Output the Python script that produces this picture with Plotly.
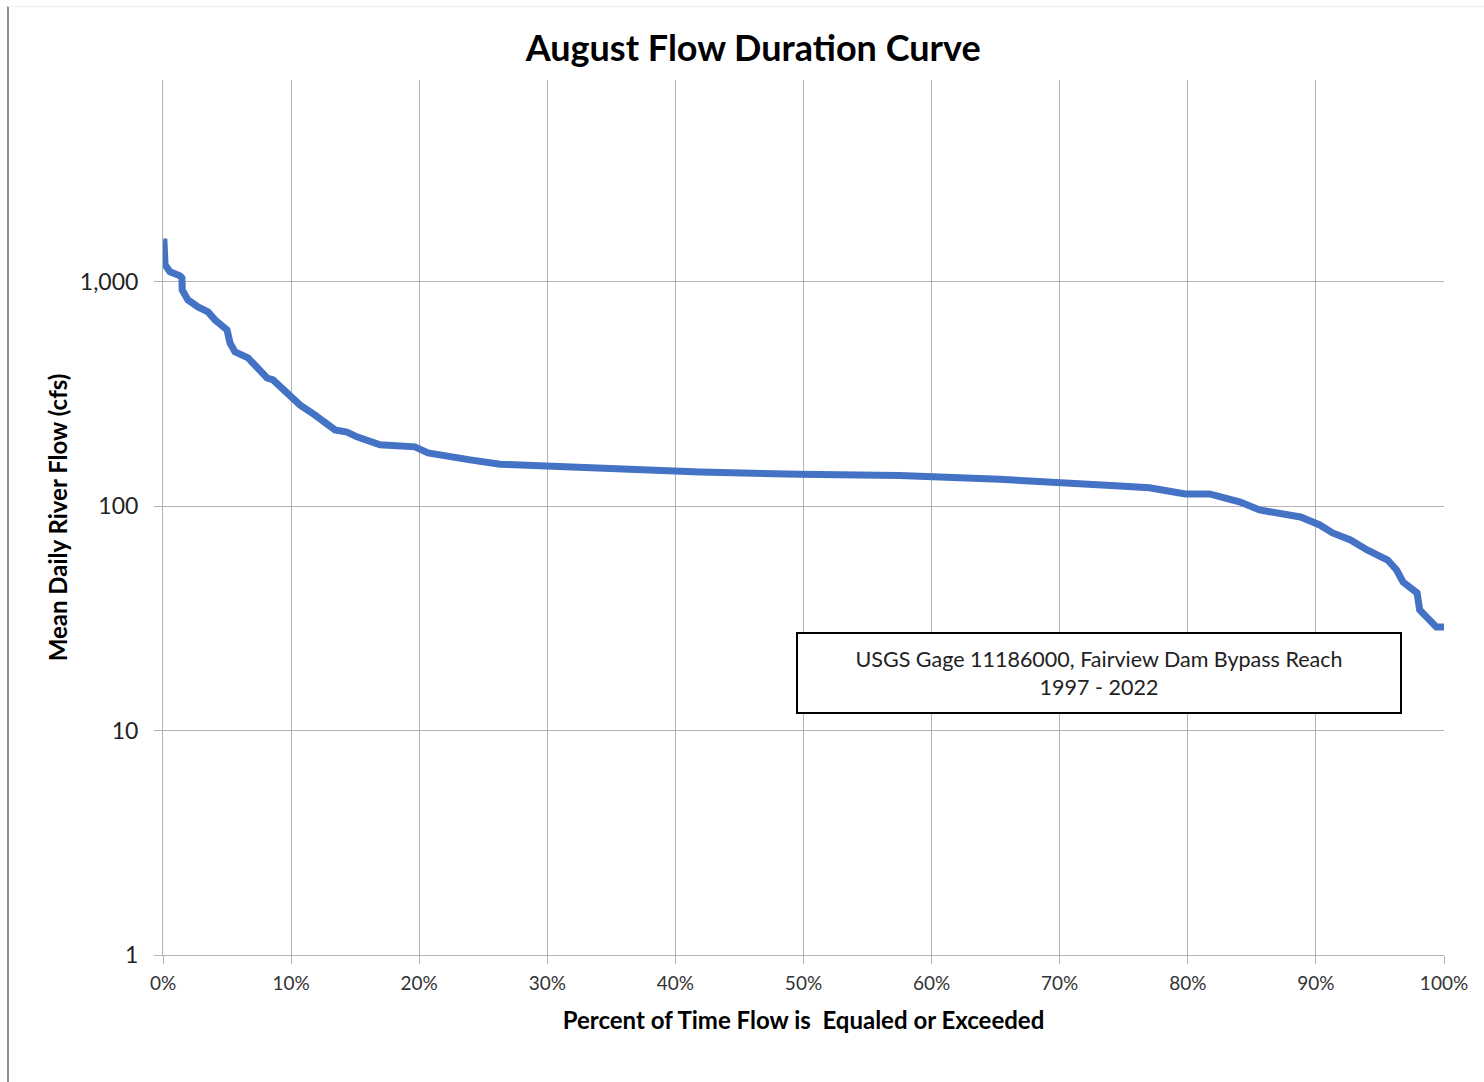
import plotly.graph_objects as go

# Percent of time flow is equaled or exceeded (%)
exceedance_pct = [0.0, 0.08, 0.16, 0.55, 1.33, 1.48, 1.50, 1.95, 2.73, 3.51, 4.06, 5.00, 5.23,
                  5.62, 6.64, 7.34, 8.12, 8.59, 10.07, 10.69, 11.87, 12.65, 13.43, 14.36,
                  15.14, 16.94, 19.67, 20.69, 22.40, 23.97, 26.31, 30.2, 34.1, 41.9, 49.7,
                  57.5, 65.3, 70.0, 74.7, 77.0, 79.8, 81.7, 84.1, 85.6, 88.0, 88.8, 90.3,
                  91.3, 92.7, 94.0, 95.6, 96.3, 96.8, 97.9, 98.1, 98.9, 99.4, 100.0]
# Mean daily river flow (cfs)
flow_cfs = [1510, 1508, 1191, 1109, 1064, 1042, 921, 831, 774, 735, 677, 611, 535,
            488, 459, 418, 373, 366, 307, 283, 255, 235, 219, 214,
            204, 188, 184, 173, 166, 161, 154, 151, 148, 142, 139,
            137, 132, 128.5, 123, 121, 113.5, 113.5, 104.5, 96.3, 90.6, 89.6, 82.6,
            76.1, 70.8, 63.9, 57.6, 52.0, 46.0, 41.1, 34.5, 30.5, 29.0, 29.0]

y_tick_vals = [1, 10, 100, 1000]
y_tick_text = ["1", "10", "100", "1,000"]
x_tick_vals = [0, 10, 20, 30, 40, 50, 60, 70, 80, 90, 100]
x_tick_text = [f"{v}%" for v in x_tick_vals]

FONT = "Lato, 'Open Sans', sans-serif"
GRID = "#b3b3b3"

fig = go.Figure()
fig.add_trace(go.Scatter(
    x=exceedance_pct, y=flow_cfs, mode="lines",
    line=dict(color="#4472C4", width=7),
    showlegend=False, hoverinfo="x+y",
))

fig.update_layout(
    width=1484, height=1082,
    paper_bgcolor="white", plot_bgcolor="white",
    margin=dict(l=163, r=40, t=80, b=127),
    font=dict(family=FONT, color="#222222"),
    title=dict(text="<b>August Flow Duration Curve</b>", x=0.5075, xanchor="center",
               y=0.955, yanchor="middle", font=dict(size=36, color="#000000", family=FONT)),
    xaxis=dict(
        range=[0, 100], tickvals=x_tick_vals, ticktext=x_tick_text,
        showgrid=True, gridcolor=GRID, gridwidth=1,
        showline=True, linecolor=GRID, linewidth=1,
        ticks="outside", ticklen=8, tickcolor=GRID,
        tickfont=dict(size=19, color="#333333"),
        ticklabelstandoff=3,
        zeroline=False,
        title=dict(text="<b>Percent of Time Flow is  Equaled or Exceeded</b>",
                   font=dict(size=24, color="#000000"), standoff=19),
    ),
    yaxis=dict(
        type="log", range=[0, 3.9], tickvals=y_tick_vals, ticktext=y_tick_text,
        showgrid=True, gridcolor=GRID, gridwidth=1,
        showline=True, linecolor=GRID, linewidth=1,
        ticks="outside", ticklen=8, tickcolor=GRID,
        tickfont=dict(size=23, color="#222222"),
        ticklabelstandoff=11,
        zeroline=False,
        title=dict(text="<b>Mean Daily River Flow (cfs)</b>",
                   font=dict(size=24, color="#000000"), standoff=5),
    ),
)

# Text box annotation
fig.add_annotation(
    x=73.03, y=1.257, xref="x", yref="y",
    text="USGS Gage 11186000, Fairview Dam Bypass Reach<br>1997 - 2022",
    showarrow=False, font=dict(size=21.5, color="#222222", family=FONT),
    bgcolor="white", bordercolor="#000000", borderwidth=2,
    width=600, height=76, align="center", valign="middle",
)

# Outer chart frame (left and top edges)
fig.add_shape(type="line", xref="paper", yref="paper",
              x0=-0.121, x1=-0.121, y0=1.084, y1=-0.146,
              line=dict(color="#8c8c8c", width=2))
fig.add_shape(type="line", xref="paper", yref="paper",
              x0=-0.121, x1=1.032, y0=1.084, y1=1.084,
              line=dict(color="#eeeeee", width=1))

fig.write_html("out.html")
